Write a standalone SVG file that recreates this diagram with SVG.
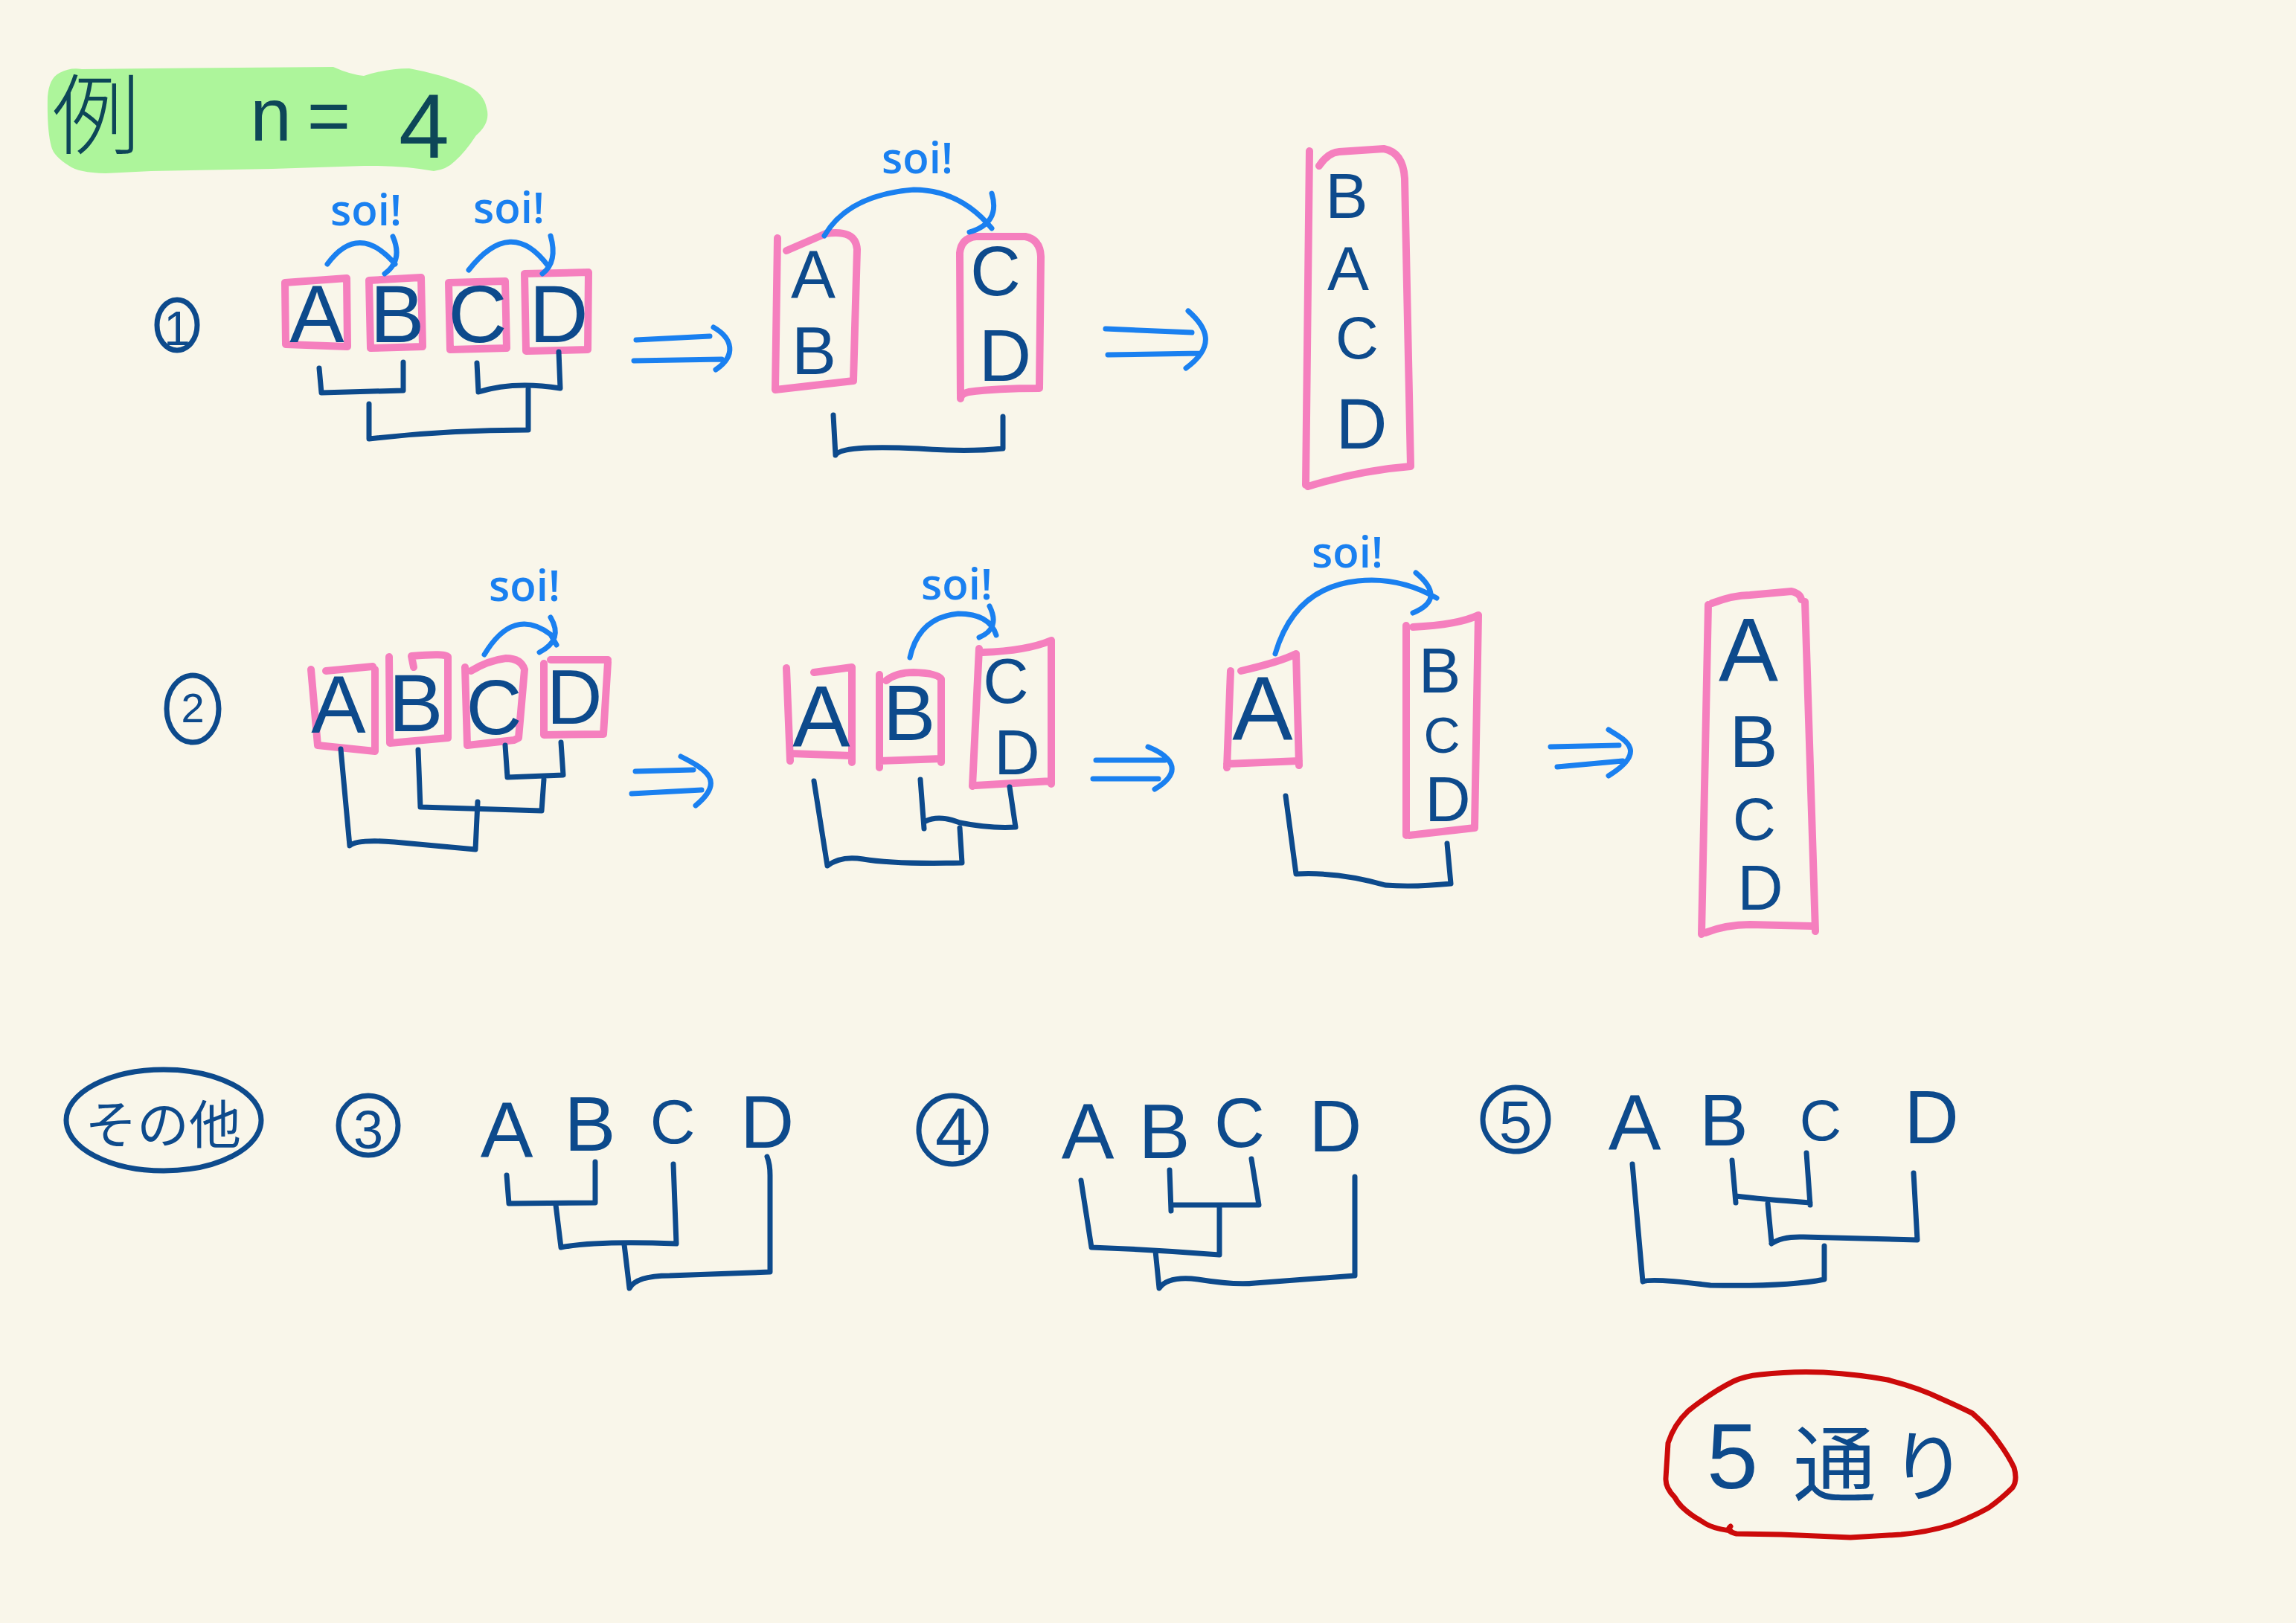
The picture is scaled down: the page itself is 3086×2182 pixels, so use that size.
<svg xmlns="http://www.w3.org/2000/svg" width="3086" height="2182" viewBox="0 0 3086 2182">
<style>
.pink{fill:none;stroke:#f57fbe;stroke-width:10;stroke-linecap:round;stroke-linejoin:round}
.navy{fill:none;stroke:#0d4a8c;stroke-width:7;stroke-linecap:round;stroke-linejoin:round}
.blue{fill:none;stroke:#1a80f0;stroke-width:7;stroke-linecap:round;stroke-linejoin:round}
.red{fill:none;stroke:#cc0a0a;stroke-width:7;stroke-linecap:round;stroke-linejoin:round}
.let{font-family:'Liberation Sans',sans-serif;fill:#0d4a8c;text-anchor:middle}
.soi{font-family:'Open Sans','Liberation Sans',sans-serif;font-weight:600;font-size:58px;fill:#1a80f0;text-anchor:middle}
.num{font-family:'Liberation Sans',sans-serif;fill:#0d4a8c;text-anchor:middle}
.jp{font-family:'Liberation Sans','Noto Sans CJK JP',sans-serif;fill:#0d4a8c}
</style>
<rect width="3086" height="2182" fill="#f9f6ea"/>

<g id="title">
<path d="M64,130 Q66,105 80,98 Q95,90 110,93 L203,92 L448,90 Q470,100 489,102 Q520,92 550,92 Q595,100 628,115 Q650,125 654,145 Q660,165 640,182 Q625,205 611,217 Q600,228 583,230 Q540,222 489,223 L366,227 L203,230 L142,233 Q105,232 93,223 Q72,210 69,197 Q63,175 64,130 Z" fill="#adf59b"/>
<text x="70" y="198" font-family="'Noto Sans CJK JP',sans-serif" font-size="118" font-weight="300" fill="#0d4658">例</text>
<text font-family="'Liberation Sans',sans-serif" fill="#0d4658" text-anchor="middle"><tspan x="364" y="189" font-size="100">n</tspan><tspan x="442" y="190" font-size="100">=</tspan><tspan x="570" y="212" font-size="122">4</tspan></text>
</g>

<!-- Row 1 -->
<g id="n1"><ellipse cx="238" cy="437" rx="27" ry="34" class="navy"/><text x="238" y="464" font-size="64" class="num">1</text></g>

<g id="r1-A"><path class="pink" d="M383,380 L466,374 L467,466 L384,463 Z"/><text class="let" x="426" y="460" font-size="110">A</text></g>
<g id="r1-B"><path class="pink" d="M496,377 L566,373 L568,466 L498,468 Z"/><text class="let" x="534" y="460" font-size="110">B</text></g>
<g id="r1-C"><path class="pink" d="M603,380 L679,378 L681,468 L605,470 Z"/><text class="let" x="642" y="460" font-size="110">C</text></g>
<g id="r1-D"><path class="pink" d="M705,368 L791,366 L790,470 L707,472 Z"/><text class="let" x="751" y="460" font-size="110">D</text></g>

<g id="r1-AB"><path class="pink" d="M1057,337 L1110,314 Q1150,308 1152,335 L1147,512 L1042,524 L1045,320"/><text class="let" font-size="90"><tspan x="1093" y="400">A</tspan><tspan x="1094" y="503">B</tspan></text></g>
<g id="r1-CD"><path class="pink" d="M1290,340 Q1292,320 1312,318 L1378,318 Q1398,322 1399,345 L1397,522 Q1340,522 1302,527 Q1291,530 1291,536 Z"/><text class="let"><tspan x="1338" y="397" font-size="94">C</tspan><tspan x="1351" y="512" font-size="98">D</tspan></text></g>
<g id="r1-BACD"><path class="pink" d="M1760,203 L1755,652 M1773,223 Q1785,205 1800,204 L1860,200 Q1886,205 1888,240 L1896,627 Q1830,632 1758,654"/><text class="let"><tspan x="1810" y="293" font-size="86">B</tspan><tspan x="1812" y="390" font-size="84">A</tspan><tspan x="1824" y="482" font-size="80">C</tspan><tspan x="1830" y="603" font-size="96">D</tspan></text></g>

<!-- Row 2 -->
<g id="n2"><ellipse cx="259" cy="953" rx="35" ry="45" class="navy"/><text x="259" y="971" font-size="56" class="num">2</text></g>

<g id="r2-A"><path class="pink" d="M418,900 L427,1002 L504,1010 L504,900 M438,902 L501,896"/><text class="let" x="455" y="985" font-size="110">A</text></g>
<g id="r2-B"><path class="pink" d="M523,883 L524,999 L602,992 L602,883 Q600,878 553,882 L556,897"/><text class="let" x="559" y="983" font-size="110">B</text></g>
<g id="r2-C"><path class="pink" d="M625,897 L628,1002 L691,995 L697,992 L705,900 Q700,885 680,885 Q656,888 633,902"/><text class="let" x="664" y="987" font-size="104">C</text></g>
<g id="r2-D"><path class="pink" d="M731,892 L731,988 L811,987 L817,890 M740,887 L817,887"/><text class="let" x="772" y="973" font-size="104">D</text></g>

<g id="r2-A2"><path class="pink" d="M1057,898 L1062,1023 M1094,904 L1145,897 L1145,1025 M1062,1013 L1145,1016"/><text class="let" x="1104" y="1004" font-size="116">A</text></g>
<g id="r2-B2"><path class="pink" d="M1182,907 L1182,1032 M1191,915 Q1205,904 1228,904 Q1260,905 1265,913 L1265,1025 M1182,1023 L1265,1020"/><text class="let" x="1222" y="995" font-size="106">B</text></g>
<g id="r2-CD2"><path class="pink" d="M1316,872 L1307,1057 M1321,877 Q1380,875 1413,861 L1413,1054 M1311,1056 L1413,1050"/><text class="let"><tspan x="1352" y="945" font-size="85">C</tspan><tspan x="1367" y="1041" font-size="85">D</tspan></text></g>

<g id="r2-A3"><path class="pink" d="M1654,902 L1649,1032 M1668,902 Q1720,890 1742,879 L1746,1029 M1649,1027 L1746,1023"/><text class="let" x="1697" y="995" font-size="122">A</text></g>
<g id="r2-BCD3"><path class="pink" d="M1890,841 L1890,1123 M1899,843 Q1960,840 1987,827 L1982,1113 L1894,1123"/><text class="let"><tspan x="1935" y="931" font-size="85">B</tspan><tspan x="1938" y="1012" font-size="68">C</tspan><tspan x="1946" y="1104" font-size="85">D</tspan></text></g>

<g id="r2-ABCD"><path class="pink" d="M2296,813 L2287,1256 M2301,811 Q2330,800 2352,800 L2408,795 Q2420,798 2421,806 M2426,809 L2440,1252 M2292,1254 Q2320,1243 2352,1243 L2435,1245"/><text class="let"><tspan x="2350" y="915" font-size="120">A</tspan><tspan x="2357" y="1031" font-size="98">B</tspan><tspan x="2358" y="1129" font-size="80">C</tspan><tspan x="2366" y="1223" font-size="85">D</tspan></text></g>

<!-- Row 3 -->
<g id="sonota"><ellipse cx="220" cy="1506" rx="131" ry="68" class="navy"/><text class="jp" x="114" y="1538" font-size="70">その他</text></g>

<g id="n3"><ellipse cx="495" cy="1513" rx="40" ry="40" class="navy"/><text x="495" y="1544" font-size="72" class="num">3</text></g>
<g id="r3-letters"><text class="let" x="681" y="1555" font-size="106">A</text><text class="let" x="793" y="1547" font-size="104">B</text><text class="let" x="904" y="1537" font-size="84">C</text><text class="let" x="1031" y="1543" font-size="100">D</text></g>

<g id="n4"><ellipse cx="1280" cy="1519" rx="45" ry="46" class="navy"/><text x="1282" y="1553" font-size="90" class="num">4</text></g>
<g id="r4-letters"><text class="let" x="1462" y="1557" font-size="106">A</text><text class="let" x="1565" y="1557" font-size="104">B</text><text class="let" x="1666" y="1542" font-size="94">C</text><text class="let" x="1795" y="1548" font-size="98">D</text></g>

<g id="n5"><ellipse cx="2037" cy="1505" rx="44" ry="43" class="navy"/><text x="2037" y="1536" font-size="80" class="num">5</text></g>
<g id="r5-letters"><text class="let" x="2197" y="1545" font-size="106">A</text><text class="let" x="2317" y="1540" font-size="98">B</text><text class="let" x="2447" y="1533" font-size="78">C</text><text class="let" x="2596" y="1537" font-size="102">D</text></g>

<g id="answer"><path class="red" d="M2326,2058 Q2300,2055 2287,2045 Q2260,2030 2251,2013 Q2238,2000 2239,1987 L2242,1940 Q2250,1915 2269,1897 Q2300,1872 2330,1857 Q2345,1850 2366,1848 Q2410,1843 2451,1845 Q2500,1848 2537,1855 Q2580,1866 2608,1880 Q2635,1892 2651,1900 Q2672,1918 2687,1940 Q2700,1958 2707,1973 Q2712,1990 2705,2000 Q2690,2015 2673,2027 Q2650,2040 2623,2050 Q2590,2060 2555,2063 L2487,2067 L2394,2063 L2334,2062 Q2318,2058 2326,2052"/><text class="jp" fill="#0e4c9a"><tspan x="2294" y="2001" font-size="124">5</tspan><tspan x="2410" y="2010" font-size="112">通</tspan><tspan x="2540" y="2010" font-size="104">り</tspan></text></g>

<g id="labels">
<text class="soi" x="492" y="303">soi!</text>
<text class="soi" x="684" y="300">soi!</text>
<text class="soi" x="1233" y="233">soi!</text>
<text class="soi" x="705" y="808">soi!</text>
<text class="soi" x="1286" y="806">soi!</text>
<text class="soi" x="1811" y="763">soi!</text>
</g>

<g id="connectors">
<path class="navy" d="M429,495 L432,528 L542,525 L542,487"/>
<path class="navy" d="M641,488 L643,527 Q690,512 753,522 L751,473"/>
<path class="navy" d="M496,543 L496,590 Q600,578 710,578 L710,523"/>
<path class="navy" d="M1120,558 L1123,612 Q1130,598 1234,603 Q1300,608 1348,603 L1348,560"/>
<path class="navy" d="M679,1002 L682,1045 L757,1042 L754,998"/>
<path class="navy" d="M562,1008 L565,1085 L728,1090 L731,1048"/>
<path class="navy" d="M458,1007 L470,1137 Q480,1128 530,1132 L639,1142 L642,1078"/>
<path class="navy" d="M1237,1048 L1242,1114 M1244,1104 Q1262,1095 1290,1106 Q1330,1114 1365,1112 L1357,1058"/>
<path class="navy" d="M1094,1050 L1112,1164 Q1130,1150 1160,1155 Q1200,1162 1293,1160 L1290,1113"/>
<path class="navy" d="M1728,1070 L1742,1175 Q1800,1172 1862,1190 Q1900,1193 1950,1188 L1945,1134"/>
<path class="navy" d="M681,1580 L684,1618 L800,1617 L800,1562"/>
<path class="navy" d="M747,1620 L754,1677 Q800,1668 909,1672 L905,1565"/>
<path class="navy" d="M839,1673 L846,1732 Q855,1715 900,1715 L1035,1710 L1035,1580 Q1035,1565 1031,1555"/>
<path class="navy" d="M1572,1573 L1574,1628 M1574,1620 L1692,1620 L1682,1558"/>
<path class="navy" d="M1453,1587 L1467,1677 Q1550,1680 1639,1687 L1639,1623"/>
<path class="navy" d="M1553,1682 L1558,1732 Q1570,1715 1610,1720 Q1660,1728 1687,1725 L1821,1715 L1821,1582"/>
<path class="navy" d="M2328,1560 L2333,1617 M2428,1550 L2433,1620 M2333,1608 Q2366,1612 2433,1617"/>
<path class="navy" d="M2376,1618 L2381,1670 M2381,1672 Q2395,1662 2424,1663 L2577,1667 L2572,1577"/>
<path class="navy" d="M2452,1675 L2452,1720 Q2404,1730 2299,1728 Q2220,1718 2208,1723 L2194,1565"/>
<path class="blue" d="M440,355 Q482,298 531,355 M528,318 Q542,350 517,368"/>
<path class="blue" d="M630,363 Q687,290 737,358 M740,317 Q750,352 729,368"/>
<path class="blue" d="M1108,317 Q1140,262 1228,255 Q1290,255 1333,307 M1333,260 Q1345,300 1303,312"/>
<path class="blue" d="M651,880 Q690,815 740,853 L748,867 M740,830 Q758,860 725,877"/>
<path class="blue" d="M1223,884 Q1235,830 1288,825 Q1330,825 1339,854 M1330,815 Q1345,845 1316,857"/>
<path class="blue" d="M1714,879 Q1740,790 1825,781 Q1880,775 1931,804 M1903,770 Q1945,805 1899,824"/>
<path class="blue" d="M855,457 L954,452 M852,485 L970,483 M959,440 C985,455 990,478 962,497"/>
<path class="blue" d="M1486,442 L1602,447 M1489,477 L1614,475 M1597,418 C1622,440 1635,465 1594,495"/>
<path class="blue" d="M854,1037 L932,1035 M849,1067 L943,1062 M915,1017 C950,1035 975,1050 935,1083"/>
<path class="blue" d="M1473,1022 L1566,1022 M1469,1047 L1557,1047 M1543,1004 C1570,1015 1595,1035 1552,1061"/>
<path class="blue" d="M2084,1004 L2176,1002 M2093,1031 L2181,1023 M2162,981 C2185,995 2215,1010 2162,1043"/>
</g>
</svg>
